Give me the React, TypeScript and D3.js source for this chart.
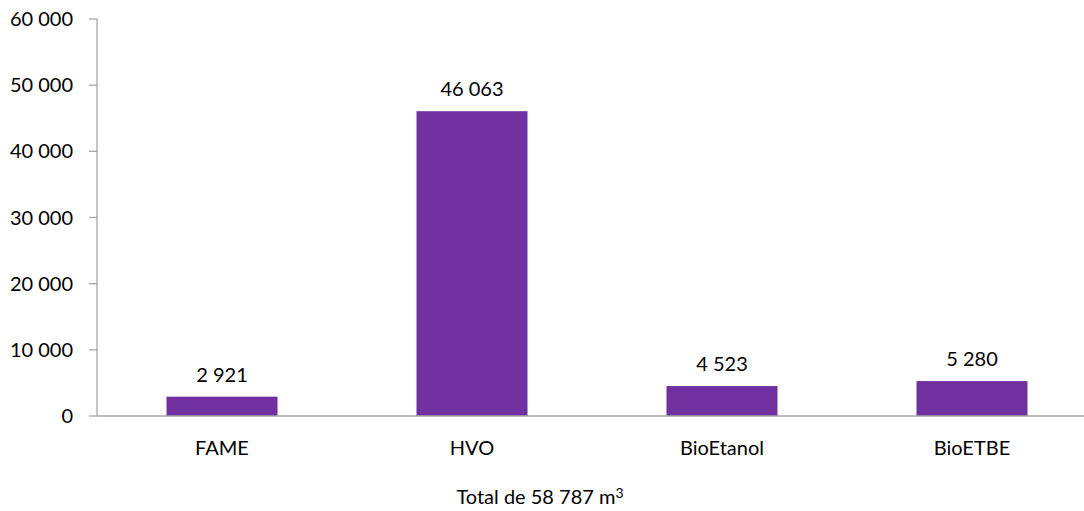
import React, { useEffect, useRef } from "react";
import * as d3 from "d3";

const categories = ["FAME", "HVO", "BioEtanol", "BioETBE"];
const values = [2921, 46063, 4523, 5280];
const yTicks = [0, 10000, 20000, 30000, 40000, 50000, 60000];

const W = 1084;
const H = 511;
const FONT = "Lato, 'Open Sans', sans-serif";
const FS = "20px";

// "46 063" style, space as thousands separator
const fmt = (v: number) => d3.format(",")(v).replace(/,/g, " ");

export default function App() {
  const svgRef = useRef<SVGSVGElement>(null);

  useEffect(() => {
    const svg = d3.select(svgRef.current);
    svg.selectAll("*").remove();

    const left = 97;
    const top = 19;
    const bottom = 416;

    const x = d3.scaleBand().domain(categories).range([left, left + 1000]).paddingInner(0.556).paddingOuter(0.278);
    const y = d3.scaleLinear().domain([0, 60000]).range([bottom, top]);

    // y axis
    svg.append("line")
      .attr("x1", left).attr("x2", left)
      .attr("y1", y(60000)).attr("y2", bottom)
      .attr("stroke", "#a6a6a6").attr("stroke-width", 1.3);

    const tick = svg.selectAll(".ytick").data(yTicks).enter().append("g").attr("class", "ytick");
    tick.append("line")
      .attr("x1", left - 8).attr("x2", left)
      .attr("y1", (d) => y(d)).attr("y2", (d) => y(d))
      .attr("stroke", "#a6a6a6").attr("stroke-width", 1.3);
    tick.append("text")
      .attr("x", left - 24)
      .attr("y", (d) => y(d))
      .attr("dy", "0.35em")
      .attr("text-anchor", "end")
      .style("font-family", FONT)
      .style("font-size", FS)
      .style("fill", "#000")
      .text((d) => fmt(d));

    // bars
    svg.selectAll(".bar").data(values).enter().append("rect")
      .attr("class", "bar")
      .attr("x", (d, i) => x(categories[i])!)
      .attr("width", x.bandwidth())
      .attr("y", (d) => y(d))
      .attr("height", (d) => bottom - y(d))
      .attr("fill", "#7030a0");

    // value labels
    svg.selectAll(".val").data(values).enter().append("text")
      .attr("x", (d, i) => x(categories[i])! + x.bandwidth() / 2)
      .attr("y", (d) => y(d) - 22)
      .attr("dy", "0.35em")
      .attr("text-anchor", "middle")
      .style("font-family", FONT)
      .style("font-size", FS)
      .text((d) => fmt(d));

    // x axis
    svg.append("line")
      .attr("x1", left).attr("x2", left + 1000)
      .attr("y1", bottom).attr("y2", bottom)
      .attr("stroke", "#a6a6a6").attr("stroke-width", 1.3);

    svg.selectAll(".xl").data(categories).enter().append("text")
      .attr("x", (d) => x(d)! + x.bandwidth() / 2)
      .attr("y", 448)
      .attr("dy", "0.35em")
      .attr("text-anchor", "middle")
      .style("font-family", FONT)
      .style("font-size", FS)
      .text((d) => d);

    // footer
    const t = svg.append("text")
      .attr("x", 540)
      .attr("y", 497)
      .attr("dy", "0.35em")
      .attr("text-anchor", "middle")
      .style("font-family", FONT)
      .style("font-size", FS);
    t.append("tspan").text("Total de 58 787 m");
    t.append("tspan").attr("dy", "-0.45em").style("font-size", "14px").text("3");
  }, []);

  return (
    <div>
      <style>{`body{margin:0}`}</style>
      <svg ref={svgRef} width={W} height={H} style={{ display: "block", background: "#fff" }} />
    </div>
  );
}
